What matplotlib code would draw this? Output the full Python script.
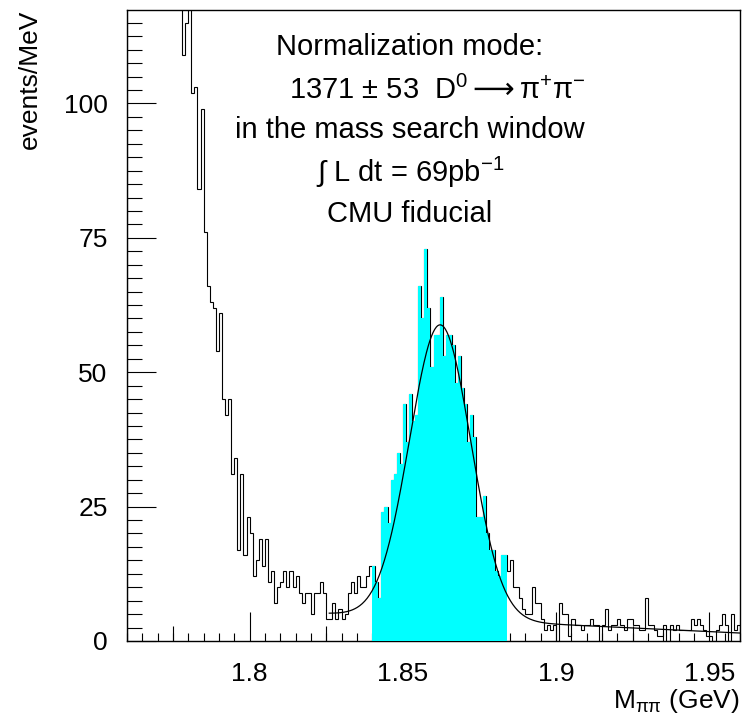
import numpy as np
import matplotlib
matplotlib.use('Agg')
import matplotlib.pyplot as plt
from matplotlib.ticker import MultipleLocator

plt.rcParams['font.family'] = ['Liberation Sans', 'DejaVu Sans']
plt.rcParams['mathtext.fontset'] = 'custom'
plt.rcParams['mathtext.rm'] = 'Liberation Sans'
plt.rcParams['mathtext.it'] = 'Liberation Sans:italic'
plt.rcParams['mathtext.bf'] = 'Liberation Sans:bold'
plt.rcParams['mathtext.sf'] = 'DejaVu Sans'

# 1 MeV bins over the pi-pi mass range
bin_lo, bin_hi, bin_w = 1.760, 1.960, 0.001

# events per bin, 1.760-1.840 GeV
counts_below = [312, 298, 281, 270, 254, 243, 229, 216, 205, 193,
                184, 172, 166, 155, 148, 139, 131, 124, 109, 115,
                121, 102, 103, 84, 99, 76, 66, 63, 62, 54,
                61, 45, 42, 45, 31, 34, 17, 31, 16, 23,
                20, 12, 15, 19, 14, 19, 11, 13, 7, 10,
                11, 13, 10, 13, 10, 12, 9, 7, 9, 9,
                5, 9, 9, 11, 9, 4, 4, 7, 4, 6,
                4, 5, 9, 11, 9, 12, 10, 10, 12, 14]
# events per bin in the mass search window, 1.840-1.884 GeV
counts_window = [14, 11, 8, 24, 25, 22, 30, 31, 35, 33,
                 44, 37, 46, 41, 42, 66, 60, 73, 62, 51,
                 57, 57, 64, 53, 57, 57, 55, 48, 53, 47,
                 44, 37, 42, 38, 23, 23, 27, 20, 17, 17,
                 13, 12, 16, 16]
# events per bin, 1.884-1.960 GeV
counts_above = [13, 15, 10, 10, 8, 6, 5, 5, 10, 7,
                7, 4, 2, 3, 2, 3, 0, 7, 5, 5,
                1, 4, 3, 3, 2, 3, 3, 4, 3, 3,
                0, 3, 6, 2, 3, 3, 4, 3, 2, 4,
                4, 3, 3, 2, 2, 8, 3, 3, 2, 1,
                1, 3, 0, 3, 2, 3, 2, 2, 2, 2,
                4, 3, 4, 3, 2, 1, 1, 0, 2, 3,
                5, 3, 0, 5, 2, 3]

# gaussian + linear background fit
n_signal, n_signal_err = 1371, 53
fit_mean, fit_sigma = 1.8622, 0.0100
bkg_ref, bkg_at_ref, bkg_slope = 1.900, 3.1, -27.0
fit_lo, fit_hi = 1.826, 1.960

counts = np.array(counts_below + counts_window + counts_above, dtype=float)
edges = bin_lo + bin_w * np.arange(len(counts) + 1)
i0 = len(counts_below)
i1 = i0 + len(counts_window)

fig = plt.figure(figsize=(7.43, 7.22), dpi=100)
ax = fig.add_axes([0.1709, 0.1122, 0.8251, 0.8740])

ax.stairs(counts, edges, color='black', lw=0.8, zorder=2)
ax.stairs(counts[i0:i1], edges[i0:i1 + 1], fill=True, color='#00ffff',
          lw=0, zorder=3)

xf = np.linspace(fit_lo, fit_hi, 500)
amp = n_signal * bin_w / (fit_sigma * np.sqrt(2 * np.pi))
yf = amp * np.exp(-0.5 * ((xf - fit_mean) / fit_sigma) ** 2) \
    + bkg_at_ref + bkg_slope * (xf - bkg_ref)
ax.plot(xf, yf, color='black', lw=0.9, zorder=4)

ax.set_xlim(bin_lo, bin_hi)
ax.set_ylim(0, 117.4)

ax.xaxis.set_major_locator(MultipleLocator(0.05))
ax.xaxis.set_minor_locator(MultipleLocator(0.005))
ax.yaxis.set_major_locator(MultipleLocator(25))
ax.yaxis.set_minor_locator(MultipleLocator(2.5))
ax.xaxis.set_major_formatter(plt.FuncFormatter(lambda v, p: f'{v:g}'))
ax.tick_params(which='both', direction='in', top=False, right=False,
               width=0.8, labelsize=19)
ax.tick_params(which='major', length=21)
ax.tick_params(axis='x', which='minor', length=6)
ax.tick_params(axis='y', which='minor', length=11)
ax.tick_params(axis='x', which='major', pad=15)
ax.tick_params(axis='y', which='major', pad=14)

# half-division ticks on the mass axis
sec = ax.secondary_xaxis('bottom')
sec.set_xticks(np.arange(1.775, bin_hi, 0.05))
sec.tick_params(direction='in', length=11, width=0.8, labelbottom=False)
sec.spines['bottom'].set_visible(False)

for s in ax.spines.values():
    s.set_linewidth(1.0)

ax.set_ylabel('events/MeV', fontsize=19, loc='top', labelpad=16)
ax.set_xlabel(r'M$_{\mathrm{\pi\pi}}$ (GeV)', fontsize=19, loc='right',
              labelpad=1)

lines = [
    'Normalization mode:',
    f'{n_signal} $\\pm$ {n_signal_err}  D$^{{\\mathrm{{0}}}}\\mathsf{{\\longrightarrow}}$π$^{{\\mathrm{{+}}}}$π$^{{\\mathrm{{-}}}}$',
    'in the mass search window',
    '∫ L dt = 69pb$^{\\mathrm{-1}}$',
    'CMU fiducial',
]
xs = [0.4617, 0.507, 0.4617, 0.4617, 0.4617]
ys = [0.9415, 0.873, 0.810, 0.743, 0.677]
for t, x, y in zip(lines, xs, ys):
    ax.text(x, y, t, transform=ax.transAxes, ha='center', va='center',
            fontsize=21, zorder=5)

fig.savefig('out.png', dpi=100)
